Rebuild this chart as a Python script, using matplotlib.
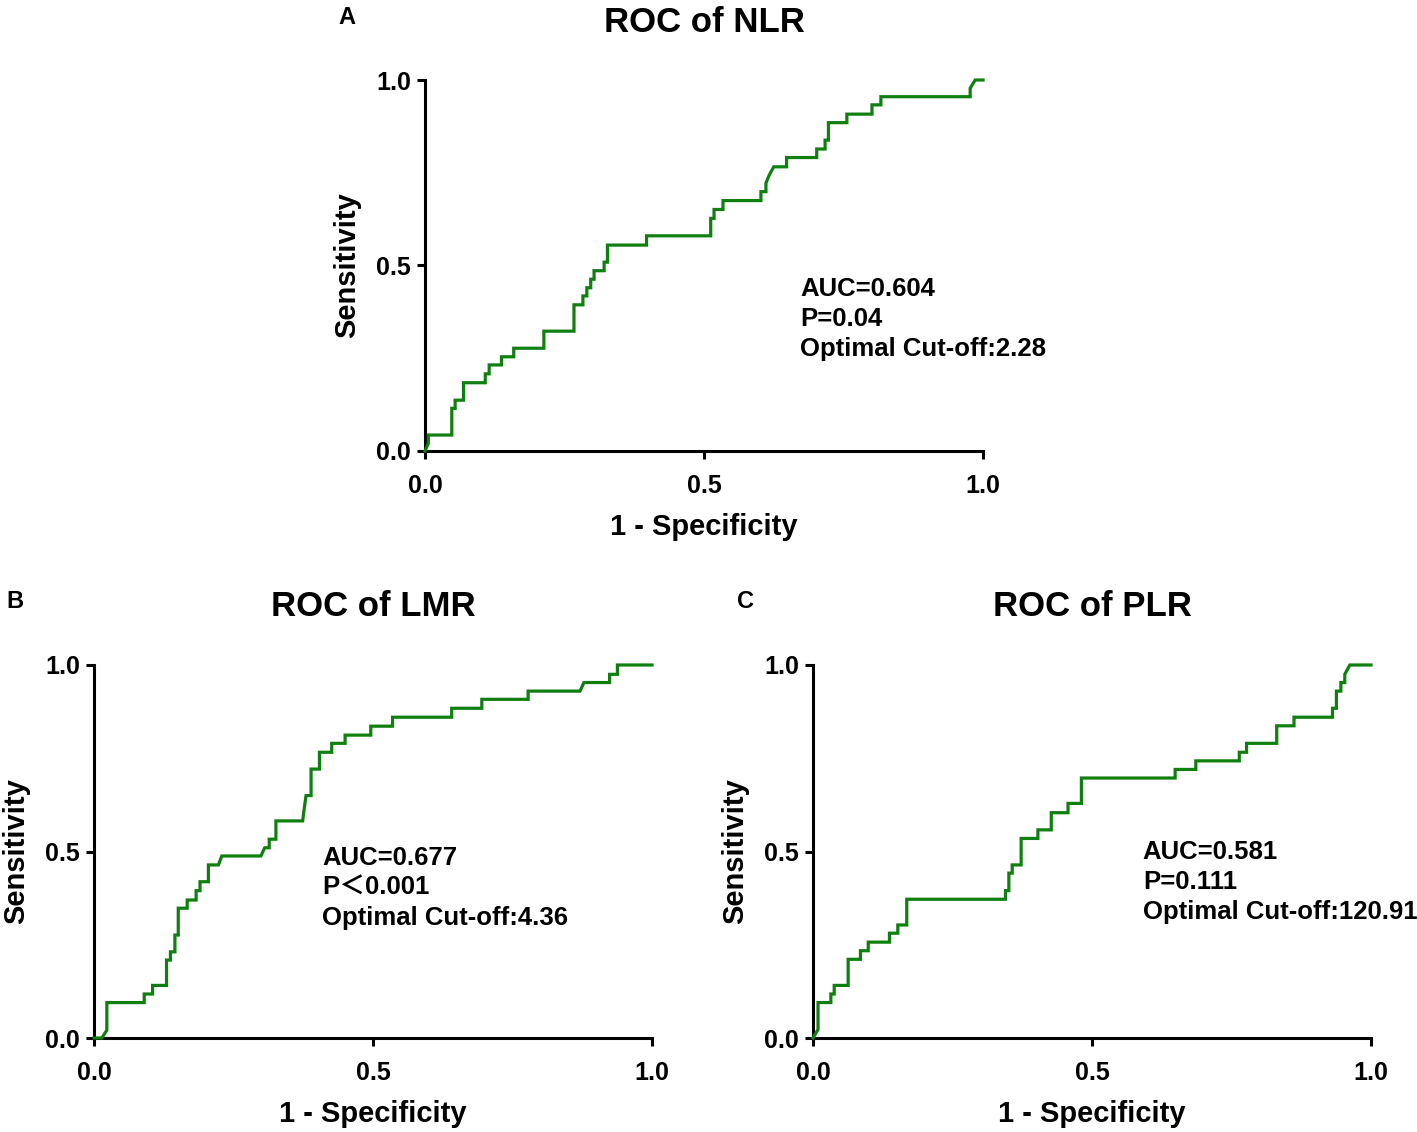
import numpy as np
import matplotlib
matplotlib.use('Agg')
import matplotlib.pyplot as plt

plt.rcParams['font.family'] = ['Liberation Sans', 'Noto Sans CJK SC', 'DejaVu Sans']
plt.rcParams['font.weight'] = 'bold'

# ROC 曲线顶点 (1 - 特异度, 灵敏度)
nlr_fpr = [0, 0.006, 0.006, 0.048, 0.048, 0.054, 0.054, 0.069, 0.069, 0.108, 0.108, 0.115, 0.115,
           0.137, 0.137, 0.159, 0.159, 0.213, 0.213, 0.267, 0.267, 0.283, 0.283, 0.290, 0.290,
           0.297, 0.297, 0.303, 0.303, 0.321, 0.321, 0.327, 0.327, 0.397, 0.397, 0.512, 0.512,
           0.518, 0.518, 0.534, 0.534, 0.602, 0.602, 0.611, 0.611, 0.617, 0.625, 0.648, 0.648,
           0.702, 0.702, 0.717, 0.717, 0.723, 0.723, 0.756, 0.756, 0.801, 0.801, 0.817, 0.817,
           0.977, 0.977, 0.986, 1.0]
nlr_tpr = [0, 0.021, 0.043, 0.043, 0.115, 0.115, 0.137, 0.137, 0.184, 0.184, 0.208, 0.208, 0.232,
           0.232, 0.254, 0.254, 0.277, 0.277, 0.323, 0.323, 0.394, 0.394, 0.418, 0.418, 0.440,
           0.440, 0.463, 0.463, 0.486, 0.486, 0.509, 0.509, 0.555, 0.555, 0.580, 0.580, 0.627,
           0.627, 0.651, 0.651, 0.675, 0.675, 0.699, 0.699, 0.722, 0.744, 0.766, 0.766, 0.791,
           0.791, 0.814, 0.814, 0.838, 0.838, 0.885, 0.885, 0.908, 0.908, 0.933, 0.933, 0.955,
           0.955, 0.978, 1.0, 1.0]

lmr_fpr = [0, 0.014, 0.023, 0.023, 0.090, 0.090, 0.105, 0.105, 0.130, 0.130, 0.137, 0.137, 0.145,
           0.145, 0.151, 0.151, 0.167, 0.167, 0.183, 0.183, 0.190, 0.190, 0.205, 0.205, 0.223,
           0.229, 0.299, 0.306, 0.314, 0.314, 0.326, 0.326, 0.374, 0.376, 0.380, 0.389, 0.389,
           0.404, 0.404, 0.426, 0.426, 0.450, 0.450, 0.496, 0.496, 0.535, 0.535, 0.641, 0.641,
           0.695, 0.695, 0.778, 0.778, 0.871, 0.878, 0.924, 0.924, 0.938, 0.938, 1.0]
lmr_tpr = [0, 0, 0.021, 0.095, 0.095, 0.118, 0.118, 0.141, 0.141, 0.209, 0.209, 0.231, 0.231,
           0.276, 0.276, 0.348, 0.348, 0.370, 0.370, 0.395, 0.395, 0.419, 0.419, 0.464, 0.464,
           0.488, 0.488, 0.510, 0.510, 0.533, 0.533, 0.582, 0.582, 0.607, 0.650, 0.650, 0.721,
           0.721, 0.766, 0.766, 0.790, 0.790, 0.812, 0.812, 0.836, 0.836, 0.860, 0.860, 0.884,
           0.884, 0.908, 0.908, 0.930, 0.930, 0.953, 0.953, 0.975, 0.975, 1.0, 1.0]

plr_fpr = [0, 0.009, 0.009, 0.032, 0.032, 0.038, 0.038, 0.063, 0.063, 0.085, 0.085, 0.099, 0.099,
           0.137, 0.137, 0.152, 0.152, 0.168, 0.168, 0.345, 0.345, 0.351, 0.351, 0.357, 0.357,
           0.373, 0.373, 0.403, 0.403, 0.427, 0.427, 0.457, 0.457, 0.481, 0.481, 0.649, 0.649,
           0.686, 0.686, 0.764, 0.764, 0.777, 0.777, 0.831, 0.831, 0.862, 0.862, 0.931, 0.931,
           0.938, 0.938, 0.946, 0.946, 0.953, 0.953, 0.962, 1.0]
plr_tpr = [0, 0.023, 0.095, 0.095, 0.118, 0.118, 0.141, 0.141, 0.211, 0.211, 0.234, 0.234, 0.257,
           0.257, 0.281, 0.281, 0.303, 0.303, 0.372, 0.372, 0.395, 0.395, 0.442, 0.442, 0.464,
           0.464, 0.535, 0.535, 0.558, 0.558, 0.604, 0.604, 0.629, 0.629, 0.697, 0.697, 0.720,
           0.720, 0.743, 0.743, 0.766, 0.766, 0.790, 0.790, 0.837, 0.837, 0.860, 0.860, 0.884,
           0.884, 0.930, 0.930, 0.953, 0.953, 0.975, 1.0, 1.0]

titles = ['ROC of NLR', 'ROC of LMR', 'ROC of PLR']
letters = ['A', 'B', 'C']
notes = ['AUC=0.604\nP=0.04\nOptimal Cut-off:2.28',
         'AUC=0.677\nP\uff1c0.001\nOptimal Cut-off:4.36',
         'AUC=0.581\nP=0.111\nOptimal Cut-off:120.91']
note_pos = [(0.672, 0.356), (0.409, 0.402), (0.591, 0.418)]
curves = [(nlr_fpr, nlr_tpr), (lmr_fpr, lmr_tpr), (plr_fpr, plr_tpr)]

W, H = 1417, 1132
fig = plt.figure(figsize=(W / 100, H / 100), dpi=100)

# 坐标轴位置 (像素): 左, 下, 右, 上
boxes = [(425, 451, 983, 80), (94, 1038, 652, 665), (813, 1038, 1371, 665)]
letter_xy = [(347, 17), (15, 601), (745, 601)]

for i in range(3):
    l, b, r, t = boxes[i]
    ax = fig.add_axes([l / W, 1 - b / H, (r - l) / W, (b - t) / H])
    hpx = b - t
    wpx = r - l
    fpr, tpr = curves[i]
    ax.plot(fpr, tpr, color='#0f7f0f', lw=2.3, clip_on=False, zorder=3,
            solid_joinstyle='miter')
    ax.set_xlim(0, 1)
    ax.set_ylim(0, 1)
    ax.set_xticks([0, 0.5, 1.0])
    ax.set_yticks([0, 0.5, 1.0])
    ax.set_xticklabels(['0.0', '0.5', '1.0'])
    ax.set_yticklabels(['0.0', '0.5', '1.0'])
    for s in ['top', 'right']:
        ax.spines[s].set_visible(False)
    for s in ['left', 'bottom']:
        ax.spines[s].set_linewidth(2.2)
    ax.tick_params(direction='out', length=6, width=2.2, labelsize=18, pad=4)
    ax.tick_params(axis='x', pad=10.5)
    for lab in ax.get_xticklabels() + ax.get_yticklabels():
        lab.set_fontweight('bold')
    ax.set_xlabel('1 - Specificity', fontsize=21, fontweight='bold', va='center')
    ax.xaxis.set_label_coords(0.5, -76 / hpx)
    ax.set_ylabel('Sensitivity', fontsize=21, fontweight='bold', va='center')
    ax.yaxis.set_label_coords(-78 / wpx, 0.5)
    ax.text(0.5, 1 + 58 / hpx, titles[i], fontsize=25, fontweight='bold',
            ha='center', va='center', transform=ax.transAxes)
    ax.text(note_pos[i][0], note_pos[i][1], notes[i], fontsize=18.5, fontweight='bold',
            ha='left', va='center', linespacing=1.33, transform=ax.transAxes)
    fig.text(letter_xy[i][0] / W, 1 - letter_xy[i][1] / H, letters[i], fontsize=17,
             fontweight='bold', ha='center', va='center')

fig.savefig('out.png', dpi=100)
